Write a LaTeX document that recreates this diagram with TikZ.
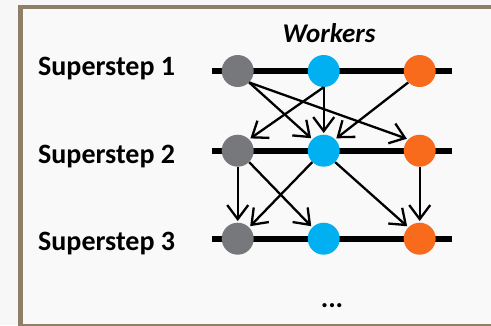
\documentclass[tikz,border=0pt]{standalone}
\usepackage{fontspec}
\setmainfont{Carlito}
\usetikzlibrary{arrows.meta}

\definecolor{bgpage}{HTML}{F7F7F7}
\definecolor{bgpanel}{HTML}{F9F9F9}
\definecolor{framecol}{HTML}{8E8068}
\definecolor{wgray}{HTML}{77787B}
\definecolor{wblue}{HTML}{00B0F0}
\definecolor{worange}{HTML}{F96B1C}

\tikzset{
  worker/.style={circle, minimum size=32pt, inner sep=0pt, draw=none},
  timeline/.style={line width=6pt, black},
  msg/.style={line width=2.3pt, black, shorten >=1.5pt, -{Straight Barb[length=14pt,width=21pt]}},
  steplabel/.style={anchor=base west, inner sep=0pt, font=\fontsize{28}{30}\selectfont\bfseries},
}

\begin{document}
\begin{tikzpicture}[x=1pt,y=-1pt]
  % page and panel
  \clip (0,0) rectangle (491,325);
  \fill[bgpage] (0,0) rectangle (491,325);
  \fill[bgpanel] (20.5,7) rectangle (520,326.5);
  \draw[framecol, line width=4.5pt] (20.5,7) rectangle (520,326.5);

  % heading
  \node[anchor=base, inner sep=0pt, font=\fontsize{27}{30}\selectfont\bfseries\itshape] (title) at (329,42.3) {Workers};

  % superstep labels
  \node[steplabel] (s1) at (38,75.7) {Superstep 1};
  \node[steplabel] (s2) at (38,163) {Superstep 2};
  \node[steplabel] (s3) at (38,250.7) {Superstep 3};

  % timelines
  \foreach \r/\y in {1/71, 2/150.7, 3/238.7} {
    \coordinate (L\r) at (212,\y);
    \coordinate (R\r) at (452,\y);
    \draw[timeline] (L\r) -- (R\r);
  }

  % workers per superstep
  \foreach \r/\y in {1/71, 2/150.7, 3/238.7} {
    \node[worker, fill=wgray]   (g\r) at (237.7,\y) {};
    \node[worker, fill=wblue]   (b\r) at (323.7,\y) {};
    \node[worker, fill=worange] (o\r) at (419.7,\y) {};
  }

  % messages from superstep 1 to 2
  \draw[msg] (g1.-45) -- (b2.135);
  \draw[msg] (g1.-45) -- (o2.135);
  \draw[msg] (b1.south) -- (g2.45);
  \draw[msg] (b1.south) -- (b2.north);
  \draw[msg] (o1.225) -- (b2.45);

  % messages from superstep 2 to 3
  \draw[msg] (g2.south) -- (g3.north);
  \draw[msg] (g2.-45) -- (b3.135);
  \draw[msg] (b2.225) -- (g3.45);
  \draw[msg] (b2.-45) -- (o3.135);
  \draw[msg] (o2.south) -- (o3.north);

  % continuation
  \node[anchor=base, inner sep=0pt, font=\fontsize{28}{30}\selectfont\bfseries] (more) at (332,307) {...};
\end{tikzpicture}
\end{document}
